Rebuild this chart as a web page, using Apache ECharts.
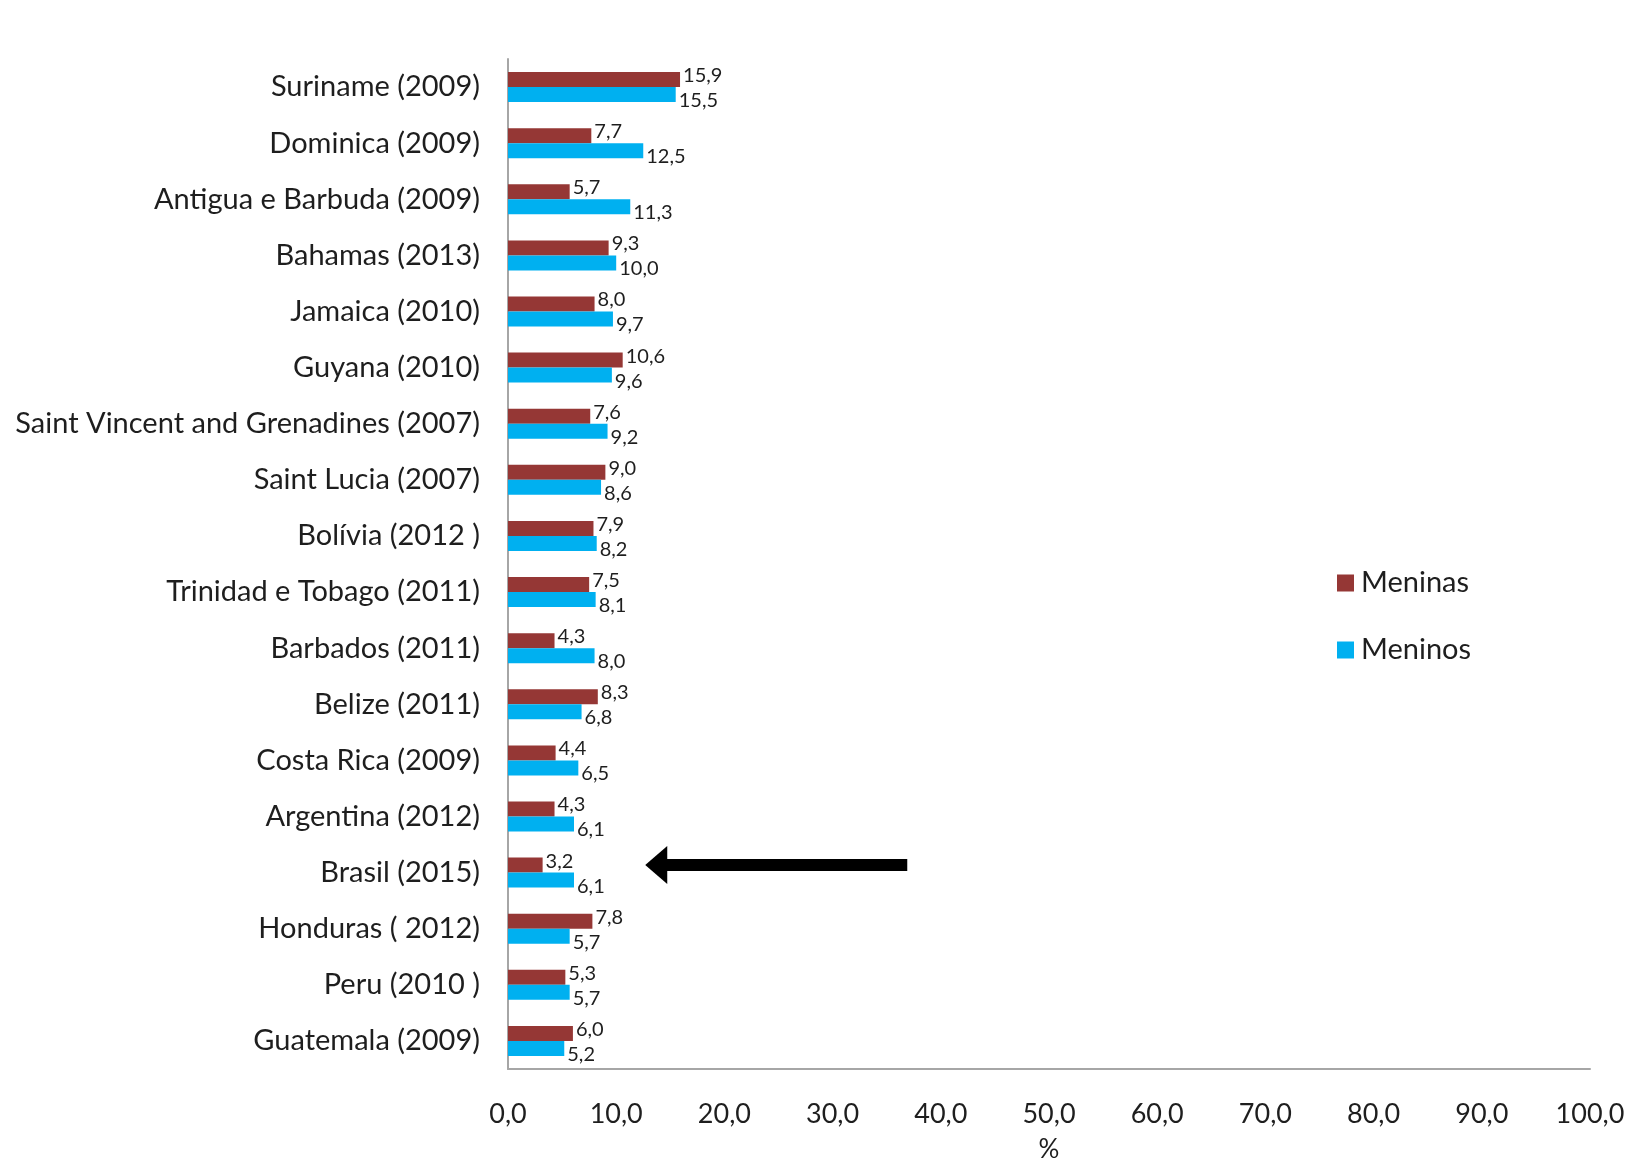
<!DOCTYPE html>
<html>
<head>
<meta charset="utf-8">
<title>Meninas e Meninos (%)</title>
<script src="https://cdn.jsdelivr.net/npm/echarts@6/dist/echarts.min.js"></script>
<style>
  html, body { margin: 0; padding: 0; background: #ffffff; }
  #chart { width: 1633px; height: 1159px; }
</style>
</head>
<body>
<div id="chart"></div>
<script>
// Countries (survey year), listed top to bottom
const countries = [
  'Suriname (2009)', 'Dominica (2009)', 'Antigua e Barbuda (2009)', 'Bahamas (2013)',
  'Jamaica (2010)', 'Guyana (2010)', 'Saint Vincent and Grenadines (2007)', 'Saint Lucia (2007)',
  'Bolívia (2012 )', 'Trinidad e Tobago (2011)', 'Barbados (2011)', 'Belize (2011)',
  'Costa Rica (2009)', 'Argentina (2012)', 'Brasil (2015)', 'Honduras ( 2012)',
  'Peru (2010 )', 'Guatemala (2009)'
];
const meninas = [15.9, 7.7, 5.7, 9.3, 8.0, 10.6, 7.6, 9.0, 7.9, 7.5, 4.3, 8.3, 4.4, 4.3, 3.2, 7.8, 5.3, 6.0];
const meninos = [15.5, 12.5, 11.3, 10.0, 9.7, 9.6, 9.2, 8.6, 8.2, 8.1, 8.0, 6.8, 6.5, 6.1, 6.1, 5.7, 5.7, 5.2];
const xTicks = [0, 10, 20, 30, 40, 50, 60, 70, 80, 90, 100];
// Highlighted country and the arrow span along the value axis
const highlight = 'Brasil (2015)';
const arrowFrom = 36.9;
const arrowTo = 13.7;

const fmt = v => Number(v).toFixed(1).replace('.', ',');
const FONT = 'Lato, "Open Sans", "DejaVu Sans", sans-serif';
const TEXT = '#1e1e1e';

const chart = echarts.init(document.getElementById('chart'));
chart.setOption({
  backgroundColor: '#ffffff',
  animation: false,
  textStyle: { fontFamily: FONT, color: TEXT },
  grid: { left: 508, right: 43, top: 59, bottom: 90, containLabel: false, outerBoundsMode: 'none' },
  legend: {
    orient: 'vertical',
    left: 1332,
    top: 562,
    itemWidth: 17,
    itemHeight: 17,
    itemGap: 35,
    icon: 'rect',
    textStyle: { fontFamily: FONT, fontSize: 29, color: TEXT, lineHeight: 32, padding: [0, 0, 0, 2] },
    data: ['Meninas', 'Meninos']
  },
  xAxis: {
    type: 'value',
    min: xTicks[0],
    max: xTicks[xTicks.length - 1],
    interval: xTicks[1] - xTicks[0],
    name: '%',
    nameLocation: 'middle',
    nameGap: 68,
    nameTextStyle: { fontFamily: FONT, fontSize: 26, color: TEXT },
    axisLine: { show: true, lineStyle: { color: '#a6a6a6', width: 2 } },
    axisTick: { show: false },
    splitLine: { show: false },
    axisLabel: {
      fontFamily: FONT, fontSize: 27, color: TEXT, margin: 32,
      formatter: v => fmt(v)
    }
  },
  yAxis: {
    type: 'category',
    inverse: true,
    data: countries,
    axisLine: { show: true, lineStyle: { color: '#a6a6a6', width: 2 } },
    axisTick: { show: false },
    axisLabel: { fontFamily: FONT, fontSize: 29, color: TEXT, margin: 28 }
  },
  series: [
    {
      name: 'Meninas',
      type: 'bar',
      data: meninas,
      barWidth: 15,
      barGap: '0%',
      itemStyle: { color: '#953735' },
      label: {
        show: true, position: 'right', distance: 3, offset: [0, -4],
        fontFamily: FONT, fontSize: 20, color: TEXT,
        formatter: p => fmt(p.value)
      },
      // Arrow pointing at the highlighted country
      markLine: {
        silent: true,
        animation: false,
        symbol: ['none', 'triangle'],
        symbolSize: [38, 22],
        label: { show: false },
        lineStyle: { color: '#000000', width: 12, type: 'solid' },
        data: [[
          { coord: [arrowFrom, highlight] },
          { coord: [arrowTo, highlight] }
        ]]
      }
    },
    {
      name: 'Meninos',
      type: 'bar',
      data: meninos,
      barWidth: 15,
      barGap: '0%',
      itemStyle: { color: '#00b0f0' },
      label: {
        show: true, position: 'right', distance: 3, offset: [0, 6],
        fontFamily: FONT, fontSize: 20, color: TEXT,
        formatter: p => fmt(p.value)
      }
    }
  ]
});
</script>
</body>
</html>
